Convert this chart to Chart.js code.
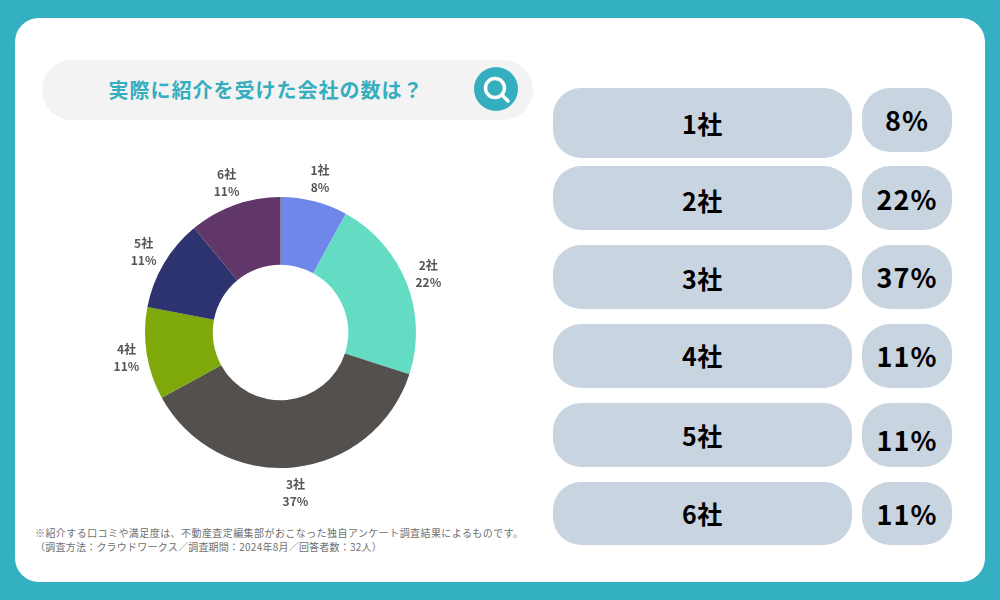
<!DOCTYPE html>
<html lang="ja">
<head>
<meta charset="utf-8">
<title>実際に紹介を受けた会社の数は？</title>
<script src="https://cdn.jsdelivr.net/npm/chart.js@4"></script>
<style>
  * { box-sizing: border-box; margin: 0; padding: 0; }
  html, body { width: 1000px; height: 600px; overflow: hidden; }
  body { position: relative; background: #33b1c2; font-family: 'Noto Sans CJK JP', 'Noto Sans', sans-serif; }
  .panel { position: absolute; left: 15px; top: 18px; width: 970px; height: 564px; background: #fff; border-radius: 24px; }
  .search { position: absolute; left: 42px; top: 60px; width: 491px; height: 60px; background: #f3f3f3; border-radius: 30px; }
  .title { position: absolute; left: 46px; top: 60px; width: 440px; height: 60px; line-height: 60px; text-align: center; color: #35aebf; font-size: 20px; font-weight: 700; letter-spacing: 1px; }
  .icon { position: absolute; left: 474px; top: 67px; }
  canvas { position: absolute; left: 80px; top: 150px; }
  .note { position: absolute; left: 35px; font-size: 10px; line-height: 14px; color: #6f6f6f; white-space: pre; }
  .pill { position: absolute; background: #c8d4e0; border-radius: 28px; text-align: center; color: #000; font-weight: 700; }
  .name { left: 553px; width: 299px; font-size: 25px; letter-spacing: .5px; }
  .pct { left: 862px; width: 90px; font-size: 27px; letter-spacing: 1px; }
</style>
</head>
<body>
<div class="panel"></div>
<div class="search"></div>
<div class="title" id="title"></div>
<svg class="icon" width="44" height="44" viewBox="0 0 44 44">
  <circle cx="22" cy="22" r="22" fill="#35aebf"/>
  <circle cx="21" cy="21" r="9.5" fill="none" stroke="#fff" stroke-width="3.5"/>
  <line x1="28" y1="28" x2="34" y2="34" stroke="#fff" stroke-width="3.5" stroke-linecap="round"/>
</svg>
<canvas id="chart" width="401" height="364"></canvas>
<div class="note" id="note1" style="top:526px;letter-spacing:.43px"></div>
<div class="note" id="note2" style="top:540px;letter-spacing:.23px"></div>
<div id="rows"></div>
<script>
const title = '実際に紹介を受けた会社の数は？';
const notes = [
  '※紹介する口コミや満足度は、不動産査定編集部がおこなった独自アンケート調査結果によるものです。',
  '（調査方法：クラウドワークス／調査期間：2024年8月／回答者数：32人）',
];
const categories = ['1社', '2社', '3社', '4社', '5社', '6社'];
const percents = [8, 22, 37, 11, 11, 11];
const colors = ['#6f87ea', '#64dcc4', '#54504d', '#7fa90a', '#2d336e', '#603768'];

// pill rows on the right: top, height of the name pill, height of the percent pill
const rowLayout = [
  [88, 70, 64],
  [166, 64, 64],
  [245, 64, 64],
  [324, 64, 64],
  [403, 64, 64],
  [482, 63, 63],
];
// vertical nudges of the pill text, the source is not quite centred
const nameShift = [0, 2, 1, -1, 0, 0];
const pctShift = [0, 1, 0, 0, 5, 0];
// small x, y nudges of the slice labels
const labelShift = [[0, 0], [0, 0], [0, 2], [3, 1], [0, 0], [0, 0]];

document.getElementById('title').textContent = title;
document.getElementById('note1').textContent = notes[0];
document.getElementById('note2').textContent = notes[1];

const rows = document.getElementById('rows');
categories.forEach((name, i) => {
  const [top, nameH, pctH] = rowLayout[i];
  const left = document.createElement('div');
  left.className = 'pill name';
  left.style.cssText = `top:${top}px;height:${nameH}px;line-height:${nameH + nameShift[i] * 2}px`;
  left.textContent = name;
  const right = document.createElement('div');
  right.className = 'pill pct';
  right.style.cssText = `top:${top}px;height:${pctH}px;line-height:${pctH + pctShift[i] * 2}px`;
  right.textContent = percents[i] + '%';
  rows.append(left, right);
});

const sliceLabels = {
  id: 'sliceLabels',
  afterDatasetsDraw(chart) {
    const { ctx } = chart;
    ctx.save();
    ctx.fillStyle = '#555';
    ctx.font = "700 12px 'Noto Sans CJK JP', sans-serif";
    ctx.textAlign = 'center';
    ctx.textBaseline = 'middle';
    chart.getDatasetMeta(0).data.forEach((arc, i) => {
      const { x, y, startAngle, endAngle, outerRadius } = arc.getProps(['x', 'y', 'startAngle', 'endAngle', 'outerRadius'], true);
      const mid = (startAngle + endAngle) / 2;
      const lx = x + Math.cos(mid) * (outerRadius + 23.5) + labelShift[i][0];
      const ly = y + Math.sin(mid) * (outerRadius + 23.5) + labelShift[i][1];
      ctx.fillText(categories[i], lx, ly - 8.5);
      ctx.fillText(percents[i] + '%', lx, ly + 8.5);
    });
    ctx.restore();
  },
};

new Chart(document.getElementById('chart'), {
  type: 'doughnut',
  plugins: [sliceLabels],
  data: {
    labels: categories,
    datasets: [{
      data: percents,
      backgroundColor: colors,
      borderWidth: 0,
    }],
  },
  options: {
    responsive: false,
    animation: false,
    cutout: '50%',
    layout: { padding: { left: 65, right: 65, top: 47, bottom: 46 } },
    plugins: {
      legend: { display: false },
      tooltip: { enabled: false },
    },
  },
});
</script>
</body>
</html>
